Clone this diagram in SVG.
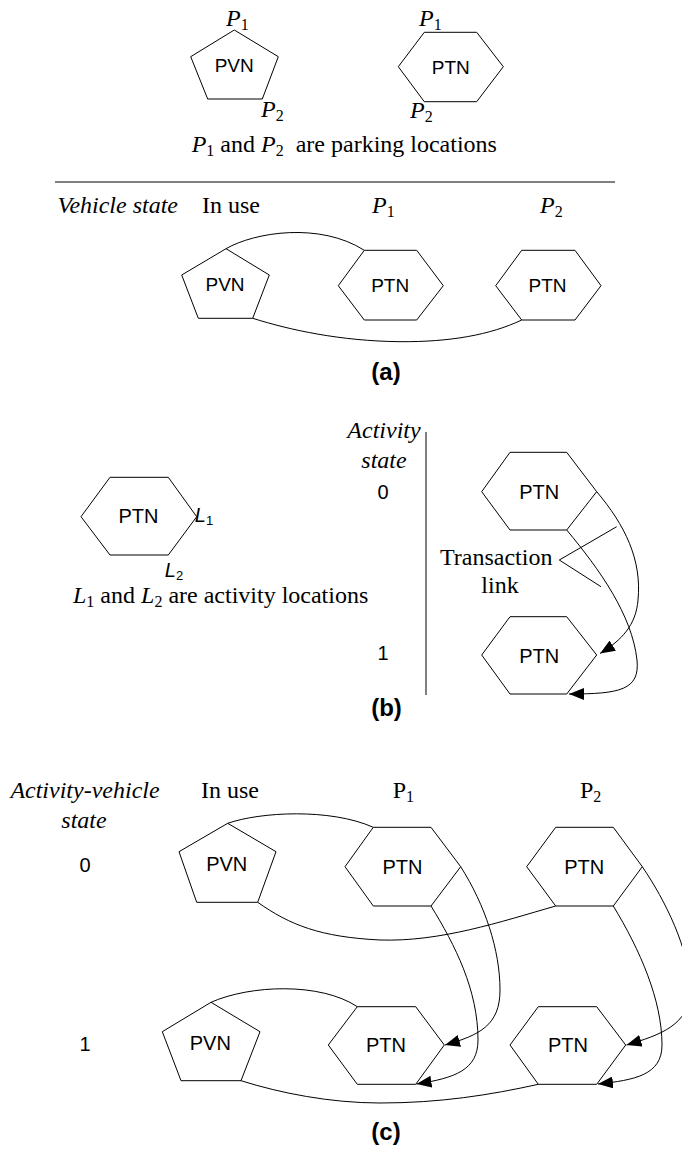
<svg xmlns="http://www.w3.org/2000/svg" width="682" height="1149" viewBox="0 0 682 1149">
<style>
.n{fill:#fff;stroke:#000;stroke-width:1}
.c{fill:none;stroke:#000;stroke-width:1}
.t{font-family:"Liberation Sans",Arial,sans-serif;font-size:20px;fill:#000;text-anchor:middle}
.ts{font-size:19px}
.s{font-family:"Liberation Serif","Times New Roman",serif;font-size:24px;fill:#000}
.i{font-style:italic}
.sub{font-size:16px}
.b{font-family:"Liberation Sans",Arial,sans-serif;font-weight:bold;font-size:24px;text-anchor:middle;fill:#000}
.d{font-family:"Liberation Sans",Arial,sans-serif;font-size:20px;text-anchor:middle;fill:#000}
</style>
<defs>
<marker id="ah" markerUnits="userSpaceOnUse" markerWidth="16" markerHeight="12" refX="15" refY="6" orient="auto">
<path d="M0,0 L15,6 L0,12 Z" fill="#000"/>
</marker>
</defs>

<!-- top legend -->
<g id="legend-pvn">
<polygon class="n" points="234.3,30 278.3,56.7 262.3,99 207.7,99 190.7,56.7"/>
<text class="t ts" x="234.2" y="72">PVN</text>
</g>
<g id="legend-ptn">
<polygon class="n" points="398.3,66.7 424.3,32.3 476.7,32.3 503.3,66.7 476.7,101.7 424.3,101.7"/>
<text class="t ts" x="450.8" y="74">PTN</text>
</g>
<g id="legend-labels">
<text class="s" x="226" y="26"><tspan class="i">P</tspan><tspan class="sub" dy="4">1</tspan></text>
<text class="s" x="261" y="117"><tspan class="i">P</tspan><tspan class="sub" dy="4">2</tspan></text>
<text class="s" x="419" y="26"><tspan class="i">P</tspan><tspan class="sub" dy="4">1</tspan></text>
<text class="s" x="410" y="118"><tspan class="i">P</tspan><tspan class="sub" dy="4">2</tspan></text>
<text class="s" x="191.7" y="152" xml:space="preserve"><tspan class="i">P</tspan><tspan class="sub" dy="4">1</tspan><tspan dy="-4"> and </tspan><tspan class="i">P</tspan><tspan class="sub" dy="4">2</tspan><tspan dy="-4">  are parking locations</tspan></text>
<line class="c" x1="55" y1="182" x2="615" y2="182"/>
</g>

<!-- (a) -->
<g id="a-headers">
<text class="s i" x="178" y="213" text-anchor="end">Vehicle state</text>
<text class="s" x="202" y="213">In use</text>
<text class="s" x="372" y="213"><tspan class="i">P</tspan><tspan class="sub" dy="4">1</tspan></text>
<text class="s" x="540" y="213"><tspan class="i">P</tspan><tspan class="sub" dy="4">2</tspan></text>
</g>
<g id="a-pvn">
<polygon class="n" points="226,248.7 269.3,275 252.7,318.3 198.3,318.3 181.7,275"/>
<text class="t ts" x="225" y="291">PVN</text>
</g>
<g id="a-ptn1">
<polygon class="n" points="338.3,285.7 364.3,250.3 416.7,250.3 443.3,285.7 416.7,320 364.3,320"/>
<text class="t ts" x="390.2" y="292">PTN</text>
</g>
<g id="a-ptn2">
<polygon class="n" points="495.7,285.7 521.7,250.3 575,250.3 601,285.7 575,320 521.7,320"/>
<text class="t ts" x="547.5" y="292">PTN</text>
</g>
<g id="a-connectors">
<path class="c" d="M226,248.7 C255,232 320,222 364.3,250.3"/>
<path class="c" d="M252.7,318.3 C290,330 340,341 400,341.7 C450,342 490,335 521.7,320"/>
</g>
<text class="b" x="386" y="380">(a)</text>

<!-- (b) -->
<g id="b-legend">
<polygon class="n" points="81,516.7 110,477.3 168.3,477.3 196.7,516.7 168.3,555 110,555"/>
<text class="t" x="138.5" y="523">PTN</text>
<text class="t" x="204" y="522" text-anchor="start" font-style="italic" font-size="19">L<tspan font-size="13" font-style="normal" dy="3">1</tspan></text>
<text class="t" x="174" y="577" text-anchor="start" font-style="italic" font-size="19">L<tspan font-size="13" font-style="normal" dy="3">2</tspan></text>
<text class="s" x="73" y="603" font-size="23"><tspan class="i">L</tspan><tspan class="sub" dy="4">1</tspan><tspan dy="-4"> and </tspan><tspan class="i">L</tspan><tspan class="sub" dy="4">2</tspan><tspan dy="-4"> are activity locations</tspan></text>
</g>
<g id="b-axis">
<text class="s i" x="384" y="438" text-anchor="middle">Activity</text>
<text class="s i" x="384" y="468" text-anchor="middle">state</text>
<text class="d" x="383" y="499">0</text>
<text class="d" x="383" y="660">1</text>
<line class="c" x1="426" y1="432" x2="426" y2="695"/>
</g>
<g id="b-ptn0">
<polygon class="n" points="481.7,491.7 510,452.3 566.7,452.3 596.7,491.7 566.7,530 510,530"/>
<text class="t" x="539.2" y="499">PTN</text>
</g>
<g id="b-ptn1">
<polygon class="n" points="481.7,655 510,616.7 566.7,616.7 596.7,655 566.7,694 510,694"/>
<text class="t" x="539.2" y="662.5">PTN</text>
</g>
<g id="b-connectors">
<path class="c" d="M596.7,491.7 C625,525 642,560 638,600 C636,625 622,640 600,653.5" marker-end="url(#ah)"/>
<path class="c" d="M566.7,530 C600,570 632,615 637,660 C640,690 620,694 569,694" marker-end="url(#ah)"/>
<path class="c" d="M559.3,560 L616.7,526.7 M559.3,560 L601,586.7"/>
</g>
<g id="b-note">
<text class="s" x="440" y="565">Transaction</text>
<text class="s" x="500" y="593" text-anchor="middle">link</text>
</g>
<text class="b" x="386.5" y="716">(b)</text>

<!-- (c) -->
<g id="c-headers">
<text class="s i" x="85" y="798" text-anchor="middle">Activity-vehicle</text>
<text class="s i" x="84" y="828" text-anchor="middle">state</text>
<text class="s" x="201" y="798">In use</text>
<text class="s" x="392.7" y="798">P<tspan class="sub" dy="4">1</tspan></text>
<text class="s" x="580" y="798">P<tspan class="sub" dy="4">2</tspan></text>
<text class="d" x="85" y="872">0</text>
<text class="d" x="85" y="1051">1</text>
</g>
<g id="c-pvn0">
<polygon class="n" points="227.7,823.3 276,851.7 257.7,902.3 196.7,902.3 179,851.7"/>
<text class="t" x="226.7" y="871">PVN</text>
</g>
<g id="c-ptn0-p1">
<polygon class="n" points="345,866.7 373.3,827.3 431,827.3 460.7,866.7 431,906 373.3,906"/>
<text class="t" x="402.5" y="873.5">PTN</text>
</g>
<g id="c-ptn0-p2">
<polygon class="n" points="526.7,866.7 555.7,827.3 613.3,827.3 642.3,866.7 613.3,906 555.7,906"/>
<text class="t" x="584.2" y="873.5">PTN</text>
</g>
<g id="c-pvn1">
<polygon class="n" points="211,1002.3 260,1031.7 241,1080.7 181,1080.7 162.3,1031.7"/>
<text class="t" x="210.3" y="1049.5">PVN</text>
</g>
<g id="c-ptn1-p1">
<polygon class="n" points="328.3,1045 357.3,1006.7 415.7,1006.7 444.3,1045 415.7,1084.3 357.3,1084.3"/>
<text class="t" x="386" y="1052">PTN</text>
</g>
<g id="c-ptn1-p2">
<polygon class="n" points="510,1045 538.3,1006.7 596.7,1006.7 625.7,1045 596.7,1084.3 538.3,1084.3"/>
<text class="t" x="568" y="1052">PTN</text>
</g>
<g id="c-connectors">
<path class="c" d="M227.7,823.3 C260,812 330,808 373.3,827.3"/>
<path class="c" d="M257.7,902.3 C290,925 320,937 380,940 C440,942 500,922 555.7,906"/>
<path class="c" d="M211,1002.3 C250,985 320,982 357.3,1006.7"/>
<path class="c" d="M241,1080.7 C280,1093 330,1103 380,1103 C440,1103 490,1095 538.3,1084.3"/>
<path class="c" d="M460.7,866.7 C485,905 500,950 500,990 C500,1025 480,1035 445,1045" marker-end="url(#ah)"/>
<path class="c" d="M431,906 C455,945 478,990 478,1040 C478,1070 455,1078 416.5,1084" marker-end="url(#ah)"/>
<path class="c" d="M642.3,866.7 C665,900 690,950 690,990 C690,1025 660,1035 626.5,1045" marker-end="url(#ah)"/>
<path class="c" d="M613.3,906 C640,950 662,1000 662,1045 C662,1075 635,1080 598,1084" marker-end="url(#ah)"/>
</g>
<text class="b" x="386" y="1140">(c)</text>
</svg>
